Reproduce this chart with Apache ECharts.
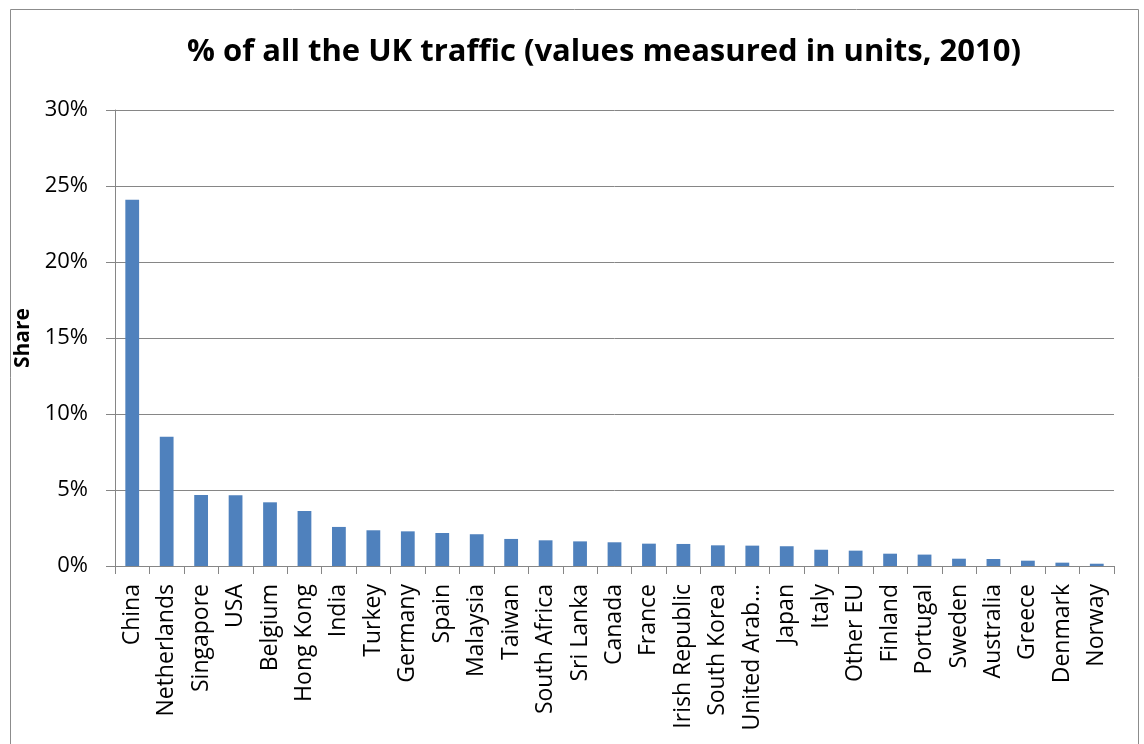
<!DOCTYPE html>
<html>
<head>
<meta charset="utf-8">
<script src="https://cdn.jsdelivr.net/npm/echarts@6/dist/echarts.min.js"></script>
<style>html,body{margin:0;padding:0;background:#fff;}#c{width:1144px;height:744px;}</style>
</head>
<body>
<div id="c"></div>
<script>
const categories = ["China","Netherlands","Singapore","USA","Belgium","Hong Kong","India","Turkey","Germany","Spain","Malaysia","Taiwan","South Africa","Sri Lanka","Canada","France","Irish Republic","South Korea","United Arab Emirates","Japan","Italy","Other EU","Finland","Portugal","Sweden","Australia","Greece","Denmark","Norway"];
const shareValues = [24.1,8.5,4.67,4.65,4.19,3.62,2.57,2.35,2.28,2.17,2.09,1.78,1.69,1.62,1.56,1.47,1.45,1.36,1.34,1.30,1.07,1.01,0.81,0.75,0.48,0.46,0.35,0.22,0.15];
const yTicks = [0,5,10,15,20,25,30];

const FONT = "Open Sans";
const chart = echarts.init(document.getElementById('c'));
chart.setOption({
  animation: false,
  backgroundColor: '#fff',
  textStyle: {fontFamily: FONT},
  title: {
    text: '% of all the UK traffic (values measured in units, 2010)',
    left: 599, top: 32, textAlign: 'center',
    textStyle: {fontFamily: FONT, fontSize: 31, fontWeight: 'bold', color: '#000'}
  },
  graphic: [{
    type: 'rect', shape: {x: 10.5, y: 9.5, width: 1128, height: 760},
    style: {fill: 'none', stroke: '#8c8c8c', lineWidth: 1}, silent: true
  }],
  grid: {left: 115, right: 30, top: 110, bottom: 178},
  xAxis: {
    type: 'category',
    data: categories,
    axisLine: {lineStyle: {color: '#868686', width: 1}},
    axisTick: {show: true, alignWithLabel: false, length: 8, lineStyle: {color: '#868686'}},
    axisLabel: {
      rotate: 90, interval: 0, margin: 18, color: '#000', fontSize: 23, fontFamily: FONT,
      formatter: v => v === 'United Arab Emirates' ? 'United Arab…' : v
    }
  },
  yAxis: {
    type: 'value', min: 0, max: 30, interval: 5,
    name: 'Share', nameLocation: 'middle', nameGap: 73, nameRotate: 90,
    nameTextStyle: {fontFamily: FONT, fontSize: 21, fontWeight: 'bold', color: '#000'},
    axisLine: {show: true, lineStyle: {color: '#868686', width: 1}},
    axisTick: {show: true, length: 9, lineStyle: {color: '#868686'}},
    splitLine: {lineStyle: {color: '#868686', width: 1}},
    axisLabel: {color: '#000', fontSize: 22, fontFamily: FONT, margin: 27,
      formatter: v => yTicks.includes(v) ? v + '%' : ''}
  },
  series: [{
    type: 'bar',
    data: shareValues,
    barCategoryGap: '60%',
    itemStyle: {color: '#4F81BD'}
  }]
});
</script>
</body>
</html>
